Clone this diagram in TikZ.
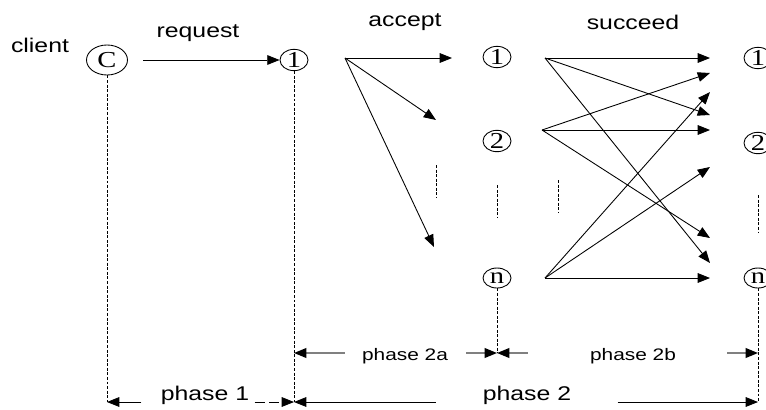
\documentclass[tikz,border=0pt]{standalone}
\usepackage{fontspec}
\usepackage{graphicx}
\setmainfont{Liberation Serif}
\setsansfont{Liberation Sans}
\usetikzlibrary{arrows.meta,shapes.geometric,calc}
\newcommand{\wide}[1]{\scalebox{1.25}[1]{#1}}
\begin{document}
\begin{tikzpicture}[x=0.02cm,y=-0.02cm,
  nd/.style={draw,ellipse,inner sep=0pt,minimum width=0.56cm,minimum height=0.4cm,line width=0.5pt,font=\rmfamily\fontsize{13}{13}\selectfont},
  lbl/.style={inner sep=0pt,font=\sffamily\fontsize{11.3}{13}\selectfont},
  ph/.style={inner sep=0pt,font=\sffamily\fontsize{9.5}{11}\selectfont},
  ln/.style={-{Triangle[length=7pt,width=5.5pt]},line width=0.5pt},
  gr/.style={-{Triangle[length=7pt,width=5.5pt,color=black]},draw=black!50,line width=0.9pt},
  dsh/.style={dash pattern=on 1.7pt off 0.9pt,line width=0.5pt}]
\useasboundingbox (0,0) rectangle (766,409);
\clip (0,0) rectangle (766,409);
% processes
\node[lbl] (client) at (40,45) {\wide{client}};
\node[nd,minimum width=0.82cm,minimum height=0.6cm] (c) at (107,60) {\wide{C}};
\node[nd] (a1) at (294,60) {\wide{1}};
\node[nd] (b1) at (497,57) {\wide{1}};
\node[nd] (b2) at (497,141) {\wide{2}};
\node[nd] (b3) at (497,278) {\wide{n}};
\node[nd] (c1) at (758,58) {\wide{1}};
\node[nd] (c2) at (758,143) {\wide{2}};
\node[nd] (c3) at (758,278) {\wide{n}};
\node[lbl] (req) at (198,33) {\wide{request}};
\node[lbl] (acc) at (405,22) {\wide{accept}};
\node[lbl] (suc) at (633,22) {\wide{succeed}};
% time axis
\coordinate (p0) at (107,402);
\coordinate (p1) at (294,402);
\coordinate (p2) at (758,402);
\coordinate (q1) at (294,353);
\coordinate (q2) at (497,353);
\coordinate (q3) at (758,353);
\node[ph,anchor=base] (ph2a) at (405,360) {\wide{phase 2a}};
\node[ph,anchor=base] (ph2b) at (633,360) {\wide{phase 2b}};
\node[lbl,anchor=base] (ph1) at (205,400) {\wide{phase 1}};
\node[lbl,anchor=base] (ph2) at (527,400) {\wide{phase 2}};
% message sources and ends
\coordinate (a0) at (345,58);
\coordinate (t1) at (452,58);
\coordinate (t2) at (436,120);
\coordinate (t3) at (434,247);
\coordinate (s1) at (545,58);
\coordinate (s2) at (542,130);
\coordinate (s3) at (545,278);
\foreach \y [count=\i] in {58,73,92,115,130,167,238,263,278}
  \coordinate (u\i) at (710,\y);

\draw[ln,shorten <=0.31cm] (c.east) -- (a1.west);
\foreach \t in {t1,t2,t3}
  \draw[ln] (a0) -- (\t);
\foreach \t in {u1,u4,u8}
  \draw[ln] (s1) -- (\t);
\foreach \t in {u2,u5,u7}
  \draw[ln] (s2) -- (\t);
\foreach \t in {u3,u6,u9}
  \draw[ln] (s3) -- (\t);

% life lines and dots
\draw[dsh] (c.south) -- (p0);
\draw[dsh] (a1.south) -- (p1);
\draw[dsh] (b3.south) -- (q2);
\draw[dsh] (c3.south) -- (p2);
\draw[dsh] (436,165) -- (436,198);
\draw[dsh] (497,185) -- (497,218);
\draw[dsh] (558,180) -- (558,213);
\draw[dsh] (758,195) -- (758,232);

% phases
\draw[gr] ($(ph2a.west |- q1)+(-17,0)$) -- (q1);
\draw[gr] ($(ph2a.east |- q1)+(18,0)$) -- (q2);
\draw[gr] ($(ph2b.west |- q2)+(-62,0)$) -- (q2);
\draw[gr] ($(ph2b.east |- q3)+(51,0)$) -- (q3);
\draw[ln] ($(ph1.west |- p0)+(-19,0)$) -- (p0);
\draw[ln,dash pattern=on 5.7pt off 2.8pt] ($(ph1.east |- p1)+(5,0)$) -- (p1);
\draw[ln] ($(ph2.west |- p1)+(-47,0)$) -- (p1);
\draw[ln] ($(ph2.east |- p2)+(46,0)$) -- (p2);
\end{tikzpicture}
\end{document}
